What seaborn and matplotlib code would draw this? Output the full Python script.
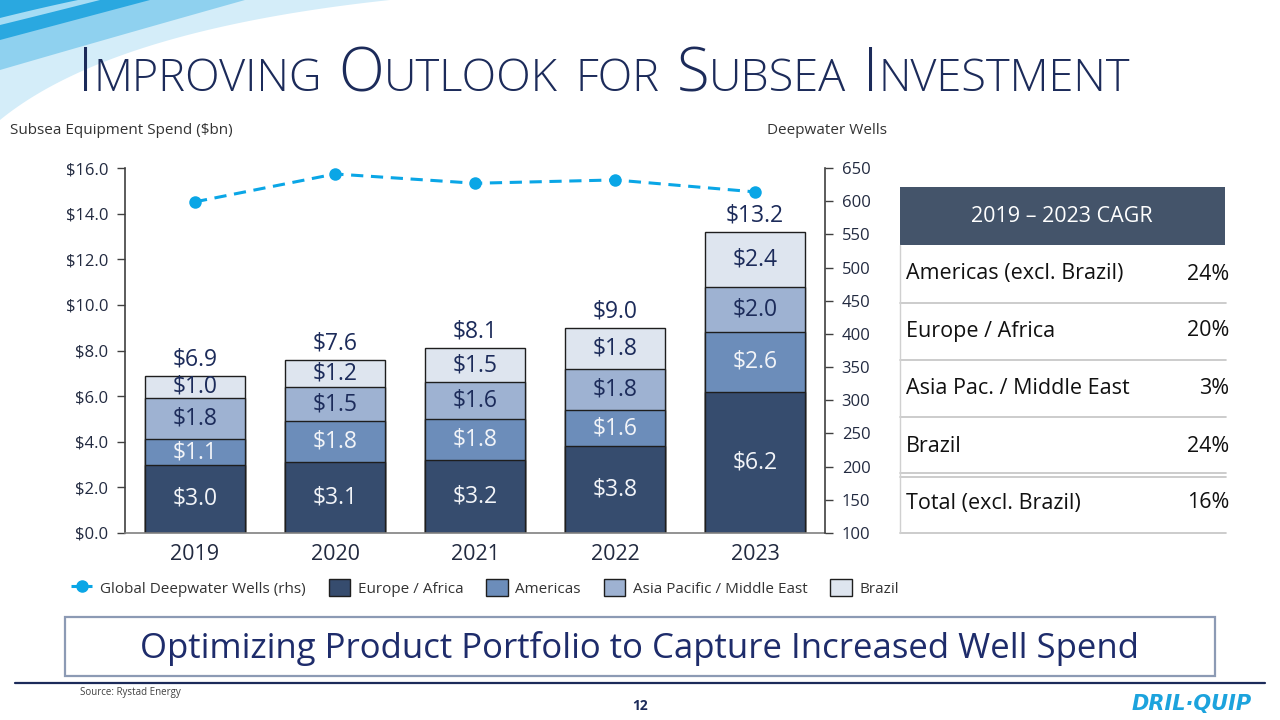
import numpy as np
import pandas as pd
import matplotlib
matplotlib.use("Agg")
import matplotlib.pyplot as plt
from matplotlib.patches import Rectangle, Polygon, Patch
from matplotlib.lines import Line2D
import seaborn as sns

# Data (Rystad Energy, subsea equipment spend in $bn)
years = ['2019', '2020', '2021', '2022', '2023']
europe_africa = [3.0, 3.1, 3.2, 3.8, 6.2]
americas = [1.1, 1.8, 1.8, 1.6, 2.6]
asia_me = [1.8, 1.5, 1.6, 1.8, 2.0]
brazil = [1.0, 1.2, 1.5, 1.8, 2.4]
totals = [6.9, 7.6, 8.1, 9.0, 13.2]
deepwater_wells = [599, 641, 627, 632, 614]

cagr_regions = ['Americas (excl. Brazil)', 'Europe / Africa', 'Asia Pac. / Middle East', 'Brazil', 'Total (excl. Brazil)']
cagr_values = ['24%', '20%', '3%', '24%', '16%']

series_names = ['Europe / Africa', 'Americas', 'Asia Pacific / Middle East', 'Brazil']
series_colors = ['#364C6E', '#6C8DBA', '#9EB2D2', '#DEE5EF']
label_colors = ['#F2F4F8', '#F2F4F8', '#1C2B5A', '#1C2B5A']

navy = '#1C2B5A'
cyan = '#0AA6E6'
spine_col = '#404040'

sns.set_theme(style='white')
plt.rcParams['font.family'] = ['Open Sans', 'DejaVu Sans']

df = pd.DataFrame({'Year': years, 'Europe / Africa': europe_africa, 'Americas': americas,
                   'Asia Pacific / Middle East': asia_me, 'Brazil': brazil})

fig = plt.figure(figsize=(12.8, 7.2), dpi=100)

# background layer in pixel coordinates
bg = fig.add_axes([0, 0, 1, 1])
bg.set_xlim(0, 1280)
bg.set_ylim(720, 0)
bg.axis('off')


def bez(p0, p1, p2, n=80):
    t = np.linspace(0, 1, n)[:, None]
    p0, p1, p2 = np.array(p0), np.array(p1), np.array(p2)
    return (1 - t) ** 2 * p0 + 2 * (1 - t) * t * p1 + t ** 2 * p2


# swoosh in the top-left corner
light = np.vstack([bez((0, 120), (110, 30), (390, 0)), [(0, 0)]])
bg.add_patch(Polygon(light, closed=True, color='#D4EDF9', lw=0))
mid = np.vstack([bez((0, 70), (110, 38), (245, 0)), [(0, 0)]])
bg.add_patch(Polygon(mid, closed=True, color='#8FD1EF', lw=0))
dark = np.vstack([bez((0, 40), (60, 24), (150, 0)), [(0, 0)]])
bg.add_patch(Polygon(dark, closed=True, color='#2AA8E0', lw=0))
stripe = np.vstack([bez((0, 18), (40, 8), (78, 0)), bez((100, 0), (45, 14), (0, 25))])
bg.add_patch(Polygon(stripe, closed=True, color='#A6DCF4', lw=0))

# title in small caps, built piece by piece
renderer = fig.canvas.get_renderer()
title_words = [('I', 'MPROVING'), ('O', 'UTLOOK'), ('', 'FOR'), ('S', 'UBSEA'), ('I', 'NVESTMENT')]
x = 78
for big, small in title_words:
    if big:
        t = bg.text(x, 91, big, fontsize=43, color=navy, va='baseline', ha='left', fontweight='light')
        x += t.get_window_extent(renderer).width
    t = bg.text(x, 91, small, fontsize=32.5, color=navy, va='baseline', ha='left', fontweight='light')
    x += t.get_window_extent(renderer).width + 17

bg.text(10, 130, 'Subsea Equipment Spend ($bn)', fontsize=11, color='#333333', va='center', ha='left')
bg.text(767, 130, 'Deepwater Wells', fontsize=11, color='#333333', va='center', ha='left')

# CAGR table
bg.add_patch(Rectangle((900, 187), 325, 58, color='#44546A', lw=0))
bg.text(1062, 217, '2019 \u2013 2023 CAGR', fontsize=15.5, color='white', ha='center', va='center')
row_y = [274, 331, 389, 446, 503]
for name, val, yy in zip(cagr_regions, cagr_values, row_y):
    bg.text(906, yy, name, fontsize=15.5, color='#111111', ha='left', va='center')
    bg.text(1229, yy, val, fontsize=15.5, color='#111111', ha='right', va='center')
for yy in [303, 360, 417, 473, 477, 533]:
    bg.plot([900, 1226], [yy, yy], color='#C4C4C4', lw=1.2)
bg.plot([900, 900], [245, 533], color='#D0D0D0', lw=1)

# bottom banner and footer
bg.add_patch(Rectangle((65, 617), 1150, 59, fill=False, edgecolor='#8C9AB4', lw=1.6))
bg.text(640, 648, 'Optimizing Product Portfolio to Capture Increased Well Spend',
        fontsize=25, color='#1E2C6B', ha='center', va='center')
bg.plot([15, 1265], [683, 683], color=navy, lw=1.6)
bg.text(80, 692, 'Source: Rystad Energy', fontsize=7, color='#404040', ha='left', va='center')
bg.text(640, 706, '12', fontsize=10, color=navy, ha='center', va='center', fontweight='bold')
bg.text(1192, 704, 'DRIL\u00b7QUIP', fontsize=15, color='#1CA3DD', ha='center', va='center',
        fontweight='black', fontstyle='italic', family=['DejaVu Sans'])

# stacked bar chart
ax = fig.add_axes([125 / 1280, 1 - 533 / 720, 700 / 1280, 365 / 720])
ax.set_facecolor('none')
cum = df[series_names].cumsum(axis=1)
for name, col in reversed(list(zip(series_names, series_colors))):
    sns.barplot(x=df['Year'], y=cum[name], color=col, saturation=1, width=0.72,
                edgecolor='#1E1E1E', linewidth=1, ax=ax)

for i in range(len(years)):
    base = 0
    for name, lc in zip(series_names, label_colors):
        v = df[name][i]
        ax.text(i, base + v / 2, f'${v:.1f}', color=lc, fontsize=16.5, ha='center', va='center')
        base += v
    ax.text(i, totals[i] + 0.72, f'${totals[i]:.1f}', color=navy, fontsize=16.5, ha='center', va='center')

ax.set_ylim(0, 16)
ax.set_xlim(-0.5, 4.5)
ax.set_yticks(np.arange(0, 16.1, 2))
ax.set_yticklabels([f'${v:.1f}' for v in np.arange(0, 16.1, 2)])
ax.set_xlabel('')
ax.set_ylabel('')
for s in ['top', 'right']:
    ax.spines[s].set_visible(False)
ax.spines['left'].set_color(spine_col)
ax.spines['bottom'].set_color('#808080')
for s in ['left', 'bottom']:
    ax.spines[s].set_linewidth(1.2)
ax.tick_params(axis='y', direction='out', length=6, width=1, color=spine_col, labelcolor='#222A40',
               labelsize=12, pad=6, left=True)
ax.tick_params(axis='x', length=0, labelcolor='#222A40', labelsize=15.5, pad=8)

# deepwater wells line on the right axis
ax2 = ax.twinx()
sns.lineplot(x=np.arange(len(years)), y=deepwater_wells, ax=ax2, color=cyan, marker='o',
             markersize=9, markeredgewidth=0, linewidth=2.2, linestyle=(0, (4, 2.5)))
ax2.set_ylim(100, 650)
ax2.set_yticks(np.arange(100, 651, 50))
ax2.set_facecolor('none')
for s in ['top', 'left', 'bottom']:
    ax2.spines[s].set_visible(False)
ax2.spines['right'].set_color(spine_col)
ax2.spines['right'].set_linewidth(1.2)
ax2.tick_params(axis='y', direction='out', length=6, width=1, color=spine_col, labelcolor='#222A40',
                labelsize=12, pad=6, right=True)
ax2.set_ylabel('')

# legend
handles = [Line2D([0], [0], color=cyan, lw=2.2, linestyle=(0, (2.5, 2)), marker='o', markersize=8)]
handles += [Patch(facecolor=c, edgecolor='#1E1E1E', lw=1) for c in series_colors]
labels = ['Global Deepwater Wells (rhs)'] + series_names
fig.legend(handles, labels, loc='center', bbox_to_anchor=(485 / 1280, 1 - 588 / 720), ncol=5,
           frameon=False, fontsize=11, handlelength=1.4, handleheight=1.3, columnspacing=1.5,
           handletextpad=0.5, labelcolor='#333333')

fig.savefig('out.png', dpi=100)
